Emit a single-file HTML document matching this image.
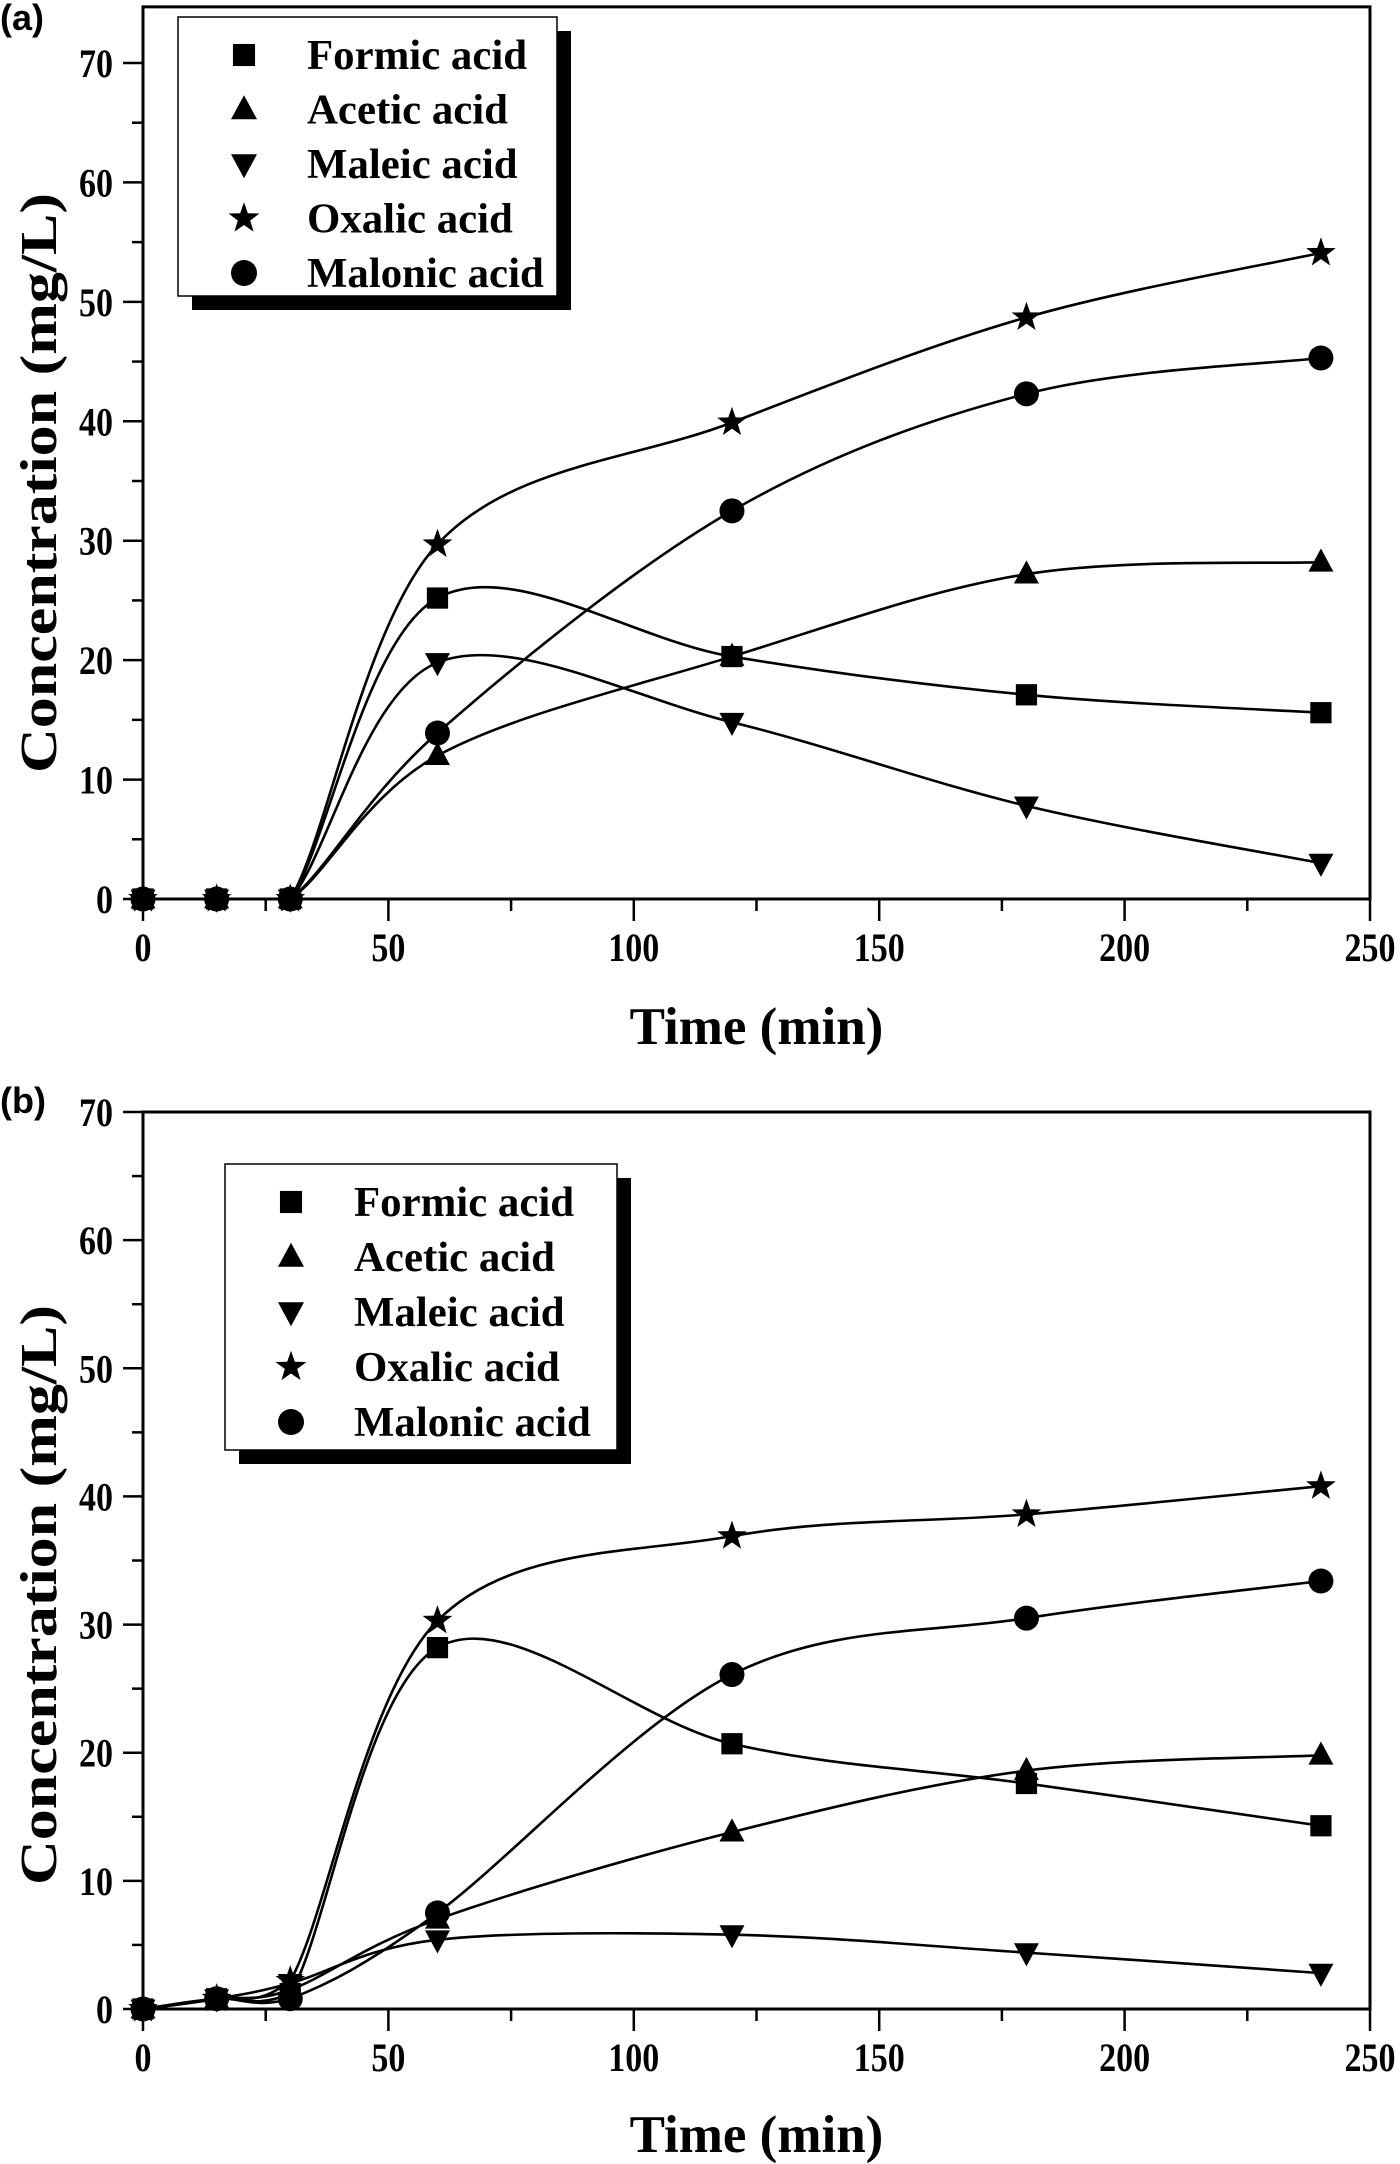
<!DOCTYPE html>
<html><head><meta charset="utf-8"><style>
html,body{margin:0;padding:0;background:#fff;}
svg{display:block;}
text{font-family:"Liberation Serif",serif;font-weight:bold;fill:#000;}
</style></head><body>
<svg id="chart" width="1400" height="2164" viewBox="0 0 1400 2164" xmlns="http://www.w3.org/2000/svg">
<g id="layer"></g>
</svg>
<script>
const times = [0, 15, 30, 60, 120, 180, 240];
const seriesNames = ["Formic acid", "Acetic acid", "Maleic acid", "Oxalic acid", "Malonic acid"];
const markerTypes = ["square", "tri-up", "tri-down", "star", "circle"];
const aFormic = [0, 0, 0, 25.2, 20.3, 17.1, 15.6];
const aAcetic = [0, 0, 0, 12.0, 20.3, 27.2, 28.2];
const aMaleic = [0, 0, 0, 19.8, 14.8, 7.8, 3.0];
const aOxalic = [0, 0, 0, 29.7, 39.9, 48.7, 54.1];
const aMalonic = [0, 0, 0, 13.9, 32.5, 42.3, 45.3];
const bFormic = [0, 0.8, 1.2, 28.2, 20.7, 17.6, 14.3];
const bAcetic = [0, 0.8, 1.5, 7.0, 13.8, 18.6, 19.8];
const bMaleic = [0, 0.8, 2.0, 5.4, 5.8, 4.4, 2.8];
const bOxalic = [0, 0.8, 2.2, 30.3, 36.9, 38.6, 40.8];
const bMalonic = [0, 0.8, 0.8, 7.5, 26.1, 30.5, 33.4];
const xTicks = [0, 50, 100, 150, 200, 250];
const yTicks = [0, 10, 20, 30, 40, 50, 60, 70];

const NS = "http://www.w3.org/2000/svg";
const layer = document.getElementById("layer");
function mk(tag, attrs, parent) {
  const e = document.createElementNS(NS, tag);
  for (const k in attrs) e.setAttribute(k, attrs[k]);
  (parent || layer).appendChild(e);
  return e;
}
function condense(t, f) {
  const w = t.getComputedTextLength();
  t.setAttribute("textLength", (w * f).toFixed(1));
  t.setAttribute("lengthAdjust", "spacingAndGlyphs");
}

function panel(cfg) {
  const g = mk("g", {});
  
  
  const X = v => cfg.x0 + (v - 0) / 250 * (cfg.x1 - cfg.x0);
  const Y = v => cfg.y0 - v / 70 * (cfg.y0 - cfg.y70);
  const top = Y(cfg.ymax);
  const fr = mk("rect", {x: cfg.x0, y: top, width: cfg.x1 - cfg.x0, height: cfg.y0 - top, fill: "none", stroke: "#000", "stroke-width": 3}, g);
  
  
  for (let v = 0; v <= 250; v += 25) {
    const major = v % 50 === 0;
    const t = mk("line", {x1: X(v), x2: X(v), y1: cfg.y0, y2: cfg.y0 + (major ? 22 : 12), stroke: "#000", "stroke-width": 2.5}, g);
    
    
  }
  xTicks.forEach(v => {
    const t = mk("text", {x: X(v), y: cfg.y0 + 62, "font-size": 40, "text-anchor": "middle"}, g);
    t.textContent = v;
    
    
    condense(t, 0.85);
  });
  for (let v = 0; v <= 70; v += 5) {
    const major = v % 10 === 0;
    const t = mk("line", {x1: cfg.x0, x2: cfg.x0 - (major ? 20 : 11), y1: Y(v), y2: Y(v), stroke: "#000", "stroke-width": 2.5}, g);
    
    
  }
  yTicks.forEach(v => {
    const t = mk("text", {x: cfg.x0 - 30, y: Y(v) + 14, "font-size": 40, "text-anchor": "end"}, g);
    t.textContent = v;
    
    
    condense(t, 0.85);
  });
  const xt = mk("text", {x: (cfg.x0 + cfg.x1) / 2, y: cfg.xtitleY, "font-size": 53, "text-anchor": "middle"}, g);
  xt.textContent = "Time (min)";
  
  
  const yt = mk("text", {x: 0, y: 0, "font-size": 52, "text-anchor": "middle", transform: `translate(56,${cfg.ytitleY}) rotate(-90)`, textLength: 580, lengthAdjust: "spacingAndGlyphs"}, g);
  yt.textContent = "Concentration (mg/L)";
  
  
  const pl = mk("text", {x: 0, y: cfg.labelY, "font-size": 36, style: "font-family:'Liberation Sans',sans-serif"}, g);
  pl.textContent = cfg.label;
  
  

  const yZero = Y(0);
  cfg.data.forEach((arr, si) => {
    const pts = times.map((t, i) => [X(t), Y(arr[i])]);
    let d = `M${pts[0][0]},${pts[0][1]}`;
    for (let i = 0; i < pts.length - 1; i++) {
      const p0 = pts[Math.max(0, i - 1)], p1 = pts[i], p2 = pts[i + 1], p3 = pts[Math.min(pts.length - 1, i + 2)];
      const c1 = [p1[0] + (p2[0] - p0[0]) / 6, Math.min(yZero, p1[1] + (p2[1] - p0[1]) / 6)];
      const c2 = [p2[0] - (p3[0] - p1[0]) / 6, Math.min(yZero, p2[1] - (p3[1] - p1[1]) / 6)];
      d += ` C${c1[0]},${c1[1]} ${c2[0]},${c2[1]} ${p2[0]},${p2[1]}`;
    }
    const path = mk("path", {d: d, fill: "none", stroke: "#000", "stroke-width": 2.6}, g);
    
    
    pts.forEach(p => {
      const m = marker(markerTypes[si], p[0], p[1], 12.5, g);
      
      
    });
  });

  const L = cfg.legend;
  const lg = mk("g", {}, g);
  
  
  mk("rect", {x: L.x + 14, y: L.y + 14, width: L.w, height: L.h, fill: "#000"}, lg);
  mk("rect", {x: L.x, y: L.y, width: L.w, height: L.h, fill: "#fff", stroke: "#000", "stroke-width": 1.5}, lg);
  seriesNames.forEach((n, i) => {
    const cy = L.y + 38 + i * L.dy;
    const e = mk("g", {}, lg);
    
    
    marker(markerTypes[i], L.x + 66, cy, 13, e);
    const t = mk("text", {x: L.x + 129, y: cy + 14, "font-size": 42}, e);
    t.textContent = n;
    condense(t, 1.02);
  });
}

function marker(type, x, y, r, parent) {
  if (type === "square") return mk("rect", {x: x - r * 0.85, y: y - r * 0.85, width: r * 1.7, height: r * 1.7, fill: "#000"}, parent);
  if (type === "circle") return mk("circle", {cx: x, cy: y, r: r, fill: "#000"}, parent);
  if (type === "tri-up") return mk("polygon", {points: `${x},${y - r * 1.1} ${x - r},${y + r * 0.75} ${x + r},${y + r * 0.75}`, fill: "#000"}, parent);
  if (type === "tri-down") return mk("polygon", {points: `${x},${y + r * 1.1} ${x - r},${y - r * 0.75} ${x + r},${y - r * 0.75}`, fill: "#000"}, parent);
  let pts = [];
  for (let k = 0; k < 10; k++) {
    const a = -Math.PI / 2 + k * Math.PI / 5;
    const rr = k % 2 === 0 ? r * 1.25 : r * 0.5;
    pts.push(`${x + rr * Math.cos(a)},${y + rr * Math.sin(a)}`);
  }
  return mk("polygon", {points: pts.join(" "), fill: "#000"}, parent);
}

panel({name: "panel-a", label: "(a)", labelY: 30, x0: 143, x1: 1370, y0: 899, y70: 63, ymax: 74.7,
  xtitleY: 1044, ytitleY: 483, data: [aFormic, aAcetic, aMaleic, aOxalic, aMalonic],
  legend: {x: 178, y: 17, w: 379, h: 279, dy: 54.5}});
panel({name: "panel-b", label: "(b)", labelY: 1113, x0: 143, x1: 1370, y0: 2009, y70: 1112, ymax: 70,
  xtitleY: 2152, ytitleY: 1595, data: [bFormic, bAcetic, bMaleic, bOxalic, bMalonic],
  legend: {x: 225, y: 1164, w: 392, h: 286, dy: 55}});
</script>
</body></html>
